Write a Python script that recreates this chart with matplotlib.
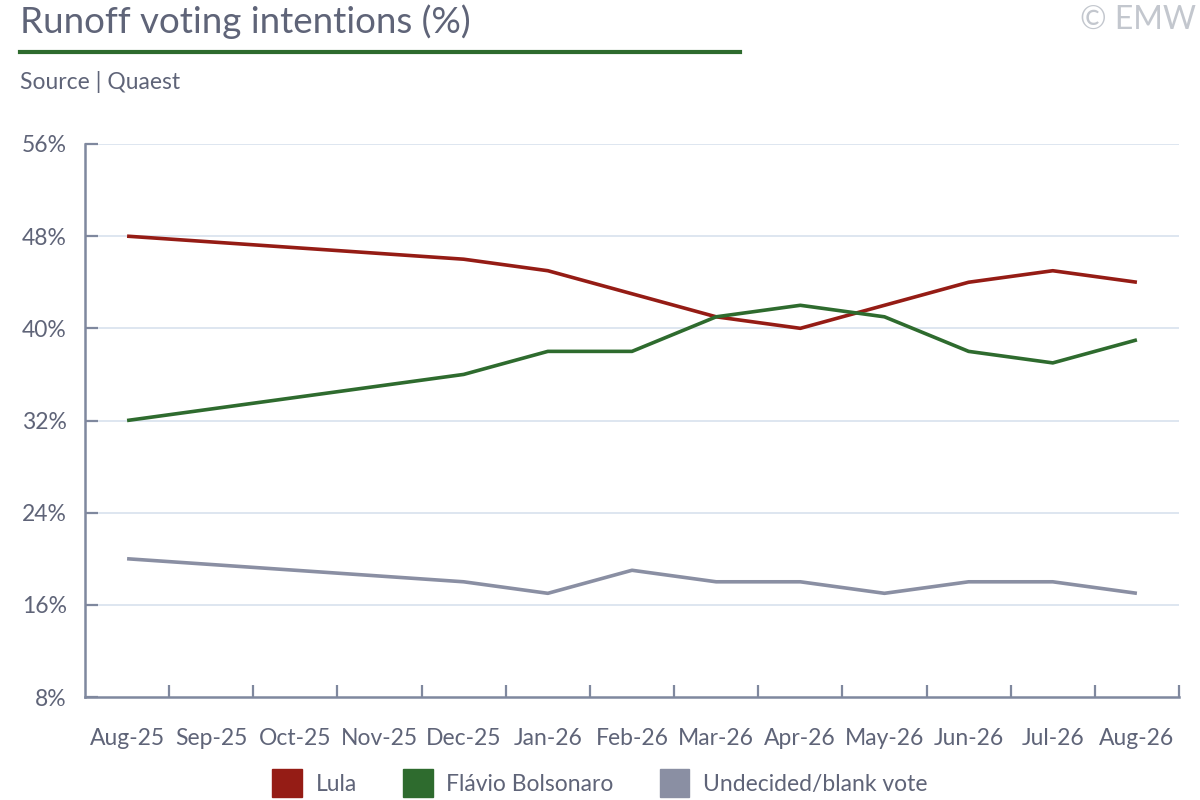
import matplotlib
matplotlib.use("Agg")
import matplotlib.pyplot as plt
from matplotlib.patches import Patch
from matplotlib.lines import Line2D
import numpy as np

plt.rcParams['font.family'] = ['Lato', 'DejaVu Sans']
plt.rcParams['font.weight'] = 'normal'

months = ["Aug-25", "Sep-25", "Oct-25", "Nov-25", "Dec-25", "Jan-26", "Feb-26",
          "Mar-26", "Apr-26", "May-26", "Jun-26", "Jul-26", "Aug-26"]
# polls taken in these months (no poll Sep-Nov 2025)
poll_months = ["Aug-25", "Dec-25", "Jan-26", "Feb-26", "Mar-26", "Apr-26",
               "May-26", "Jun-26", "Jul-26", "Aug-26"]
lula = [48, 46, 45, 43, 41, 40, 42, 44, 45, 44]
flavio = [32, 36, 38, 38, 41, 42, 41, 38, 37, 39]
undecided = [20, 18, 17, 19, 18, 18, 17, 18, 18, 17]
yticks = [8, 16, 24, 32, 40, 48, 56]

c_lula = "#951c15"
c_flavio = "#2e6b2e"
c_und = "#8a8fa3"
c_text = "#5f6478"
c_axis = "#7f889e"
c_grid = "#dbe4ef"

fig = plt.figure(figsize=(12, 8), dpi=100)
ax = fig.add_axes([85/1200, 1-697/800, (1179-85)/1200, (697-144)/800])

xpos = [months.index(m) for m in poll_months]
ax.plot(xpos, lula, color=c_lula, lw=2.6, solid_capstyle='butt')
ax.plot(xpos, flavio, color=c_flavio, lw=2.6, solid_capstyle='butt')
ax.plot(xpos, undecided, color=c_und, lw=2.6, solid_capstyle='butt')

ax.set_xlim(-0.5, len(months) - 0.5)
ax.set_ylim(8, 56)
ax.set_yticks(yticks)
ax.set_yticklabels([f"{v}%" for v in yticks])
for v in yticks[1:]:
    ax.axhline(v, color=c_grid, lw=1.3, zorder=0)

ax.set_xticks(np.arange(0.5, len(months), 1.0))
ax.set_xticklabels([])
ax.set_xticks(range(len(months)), minor=True)
ax.set_xticklabels(months, minor=True)
ax.tick_params(axis='x', which='major', direction='in', length=9, width=1.6, color=c_axis)
ax.tick_params(axis='x', which='minor', length=0, pad=22, labelsize=16.5, labelcolor=c_text)
ax.tick_params(axis='y', direction='in', length=9, width=1.6, color=c_axis,
               labelsize=16.5, labelcolor=c_text, pad=13)

for s in ['top', 'right']:
    ax.spines[s].set_visible(False)
for s in ['left', 'bottom']:
    ax.spines[s].set_color(c_axis)
    ax.spines[s].set_linewidth(1.8)

fig.text(20/1200, 1-22/800, "Runoff voting intentions (%)", fontsize=26.5, color=c_text,
         va='center', ha='left')
fig.add_artist(Line2D([20/1200, 740/1200], [1-52/800, 1-52/800], color=c_flavio, lw=3))
fig.text(20/1200, 1-82/800, "Source | Quaest", fontsize=16.5, color=c_text, va='center', ha='left')
fig.text(1196/1200, 1-20/800, "© EMW", fontsize=23, color="#c3c7ce", va='center', ha='right')

handles = [Patch(color=c_lula, label="Lula"),
           Patch(color=c_flavio, label="Flávio Bolsonaro"),
           Patch(color=c_und, label="Undecided/blank vote")]
fig.legend(handles=handles, loc='center', bbox_to_anchor=(0.5, 1-783/800), ncol=3,
           frameon=False, fontsize=16.5, labelcolor=c_text, handlelength=1.3,
           handleheight=1.5, handletextpad=0.6, columnspacing=2.0)

fig.savefig("out.png", dpi=100)
